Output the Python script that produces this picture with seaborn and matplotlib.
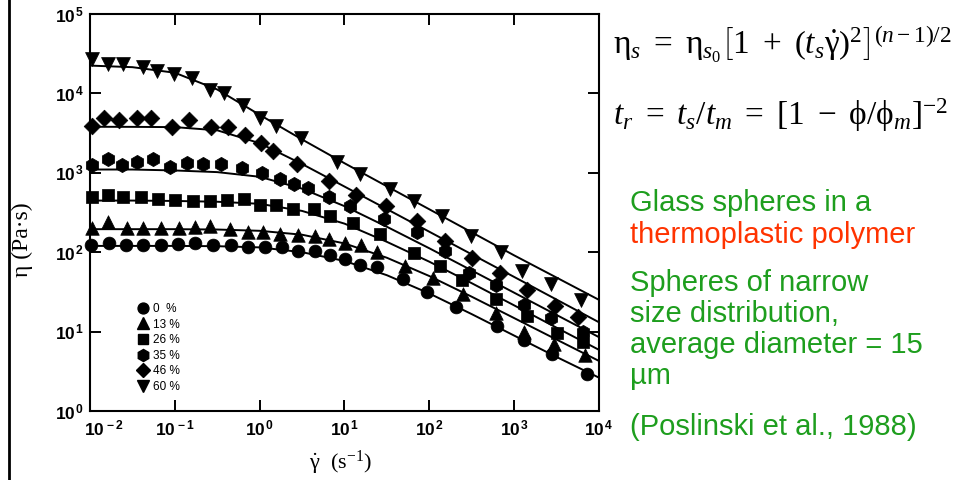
import numpy as np
import pandas as pd
import matplotlib
matplotlib.use("Agg")
import matplotlib.pyplot as plt
import matplotlib.transforms as mtransforms
import seaborn as sns
from matplotlib.lines import Line2D
from matplotlib.ticker import FixedLocator, NullLocator, FuncFormatter

# ---------------- data ----------------
labels = ["0  %", "13 %", "26 %", "35 %", "46 %", "60 %"]

rate_0 = [0.0102, 0.0166, 0.0263, 0.0427, 0.0692, 0.110, 0.174, 0.279, 0.462, 0.724, 1.16, 1.81, 2.82,
          4.47, 6.67, 10.2, 15.1, 24.0, 49.0, 94.4, 204, 631, 1290, 2820, 7240]
eta_0 = [124, 130, 122, 122, 124, 126, 130, 122, 122, 117, 117, 116, 105,
         105, 92.5, 81.3, 69.2, 64.6, 45.7, 31.6, 20.2, 11.7, 7.85, 5.25, 2.95]

rate_13 = [0.0107, 0.0164, 0.0275, 0.0417, 0.0692, 0.112, 0.174, 0.26, 0.447, 0.724, 1.10, 1.72, 2.82,
           4.47, 6.61, 10.2, 15.8, 24.0, 51.3, 110, 251, 617, 1320, 2950, 6760]
eta_13 = [204, 240, 204, 204, 204, 204, 209, 214, 195, 182, 182, 170, 166,
          158, 148, 129, 123, 100, 66.1, 46.8, 29.5, 17.4, 10.0, 7.08, 5.01]

rate_26 = [0.0107, 0.0164, 0.0245, 0.0398, 0.0631, 0.1, 0.162, 0.257, 0.412, 0.661, 1.0, 1.55,
           2.45, 4.37, 6.76, 12.6, 26.3, 66.1, 135, 240, 617, 1410, 3160, 6460]
eta_26 = [501, 525, 490, 490, 468, 457, 447, 447, 457, 468, 398, 389,
          355, 347, 285, 234, 170, 97.7, 66.8, 44.7, 25.7, 15.5, 9.55, 7.41]

rate_35 = [0.0107, 0.0164, 0.024, 0.0359, 0.0556, 0.0871, 0.141, 0.214, 0.347, 0.617, 1.07, 1.74,
           2.51, 3.76, 6.61, 11.5, 29.5, 70.8, 151, 295, 617, 1290, 2690, 6460]
eta_35 = [1270, 1480, 1260, 1350, 1480, 1200, 1320, 1290, 1290, 1150, 1000, 824,
          724, 646, 490, 380, 263, 182, 105, 55.0, 38.9, 21.9, 14.8, 10.0]

rate_46 = [0.0107, 0.0148, 0.0219, 0.0355, 0.0525, 0.0933, 0.145, 0.265, 0.427, 0.676, 1.04, 1.45,
           2.75, 6.61, 13.5, 30.9, 70.8, 151, 316, 676, 1410, 3020, 5620]
eta_46 = [3890, 4950, 4680, 4900, 4900, 3800, 4680, 3800, 3800, 3020, 2400, 1860,
          1290, 785, 525, 380, 245, 138, 85.1, 55.0, 33.9, 20.9, 15.1]

rate_60 = [0.0107, 0.0164, 0.0247, 0.0427, 0.0624, 0.0986, 0.158, 0.257, 0.382, 0.631, 1.01, 1.55,
           3.09, 8.07, 15.1, 34.7, 66.1, 141, 309, 708, 1230, 2690, 6170]
eta_60 = [26900, 23400, 23400, 21400, 19100, 17800, 15500, 11000, 10000, 7160, 4950, 3890,
          2750, 1350, 955, 631, 447, 285, 158, 100, 57.5, 39.8, 25.1]

# fitted curves (Carreau model lines)
curve_rate = [0.01, 0.0316, 0.1, 0.316, 1, 3.16, 10, 31.6, 100, 316, 1000, 3160, 10000]
fit_0 = [120, 120, 120, 119, 115, 100, 77.6, 51.3, 30.2, 16.6, 8.91, 4.79, 2.63]
fit_13 = [195, 195, 195, 193, 186, 166, 129, 85.1, 50.1, 27.5, 14.8, 7.94, 4.27]
fit_26 = [447, 447, 442, 432, 407, 331, 229, 135, 75.9, 40.7, 21.4, 11.2, 5.89]
fit_35 = [1100, 1100, 1070, 1020, 891, 631, 380, 209, 112, 58.9, 30.9, 16.2, 8.51]
fit_46 = [3800, 3790, 3760, 3430, 2360, 1290, 671, 349, 181, 94.0, 48.8, 25.3, 13.1]
fit_60 = [22400, 21400, 18200, 11200, 5370, 2630, 1320, 676, 347, 178, 91.2, 47.9, 25.1]

markers = ["o", "^", "s", "h", "D", "v"]
msizes = [85, 95, 75, 105, 72, 100]

# ---------------- build tables ----------------
rates = [rate_0, rate_13, rate_26, rate_35, rate_46, rate_60]
etas = [eta_0, eta_13, eta_26, eta_35, eta_46, eta_60]
fits = [fit_0, fit_13, fit_26, fit_35, fit_46, fit_60]

pts = pd.concat([pd.DataFrame({"rate": r, "eta": e, "conc": l})
                 for r, e, l in zip(rates, etas, labels)], ignore_index=True)
curves = pd.concat([pd.DataFrame({"rate": curve_rate, "eta": f, "conc": l})
                    for f, l in zip(fits, labels)], ignore_index=True)

# ---------------- figure ----------------
plt.rcParams["mathtext.fontset"] = "custom"
plt.rcParams["mathtext.rm"] = "Liberation Serif"
plt.rcParams["mathtext.it"] = "Liberation Serif:italic"
plt.rcParams["mathtext.bf"] = "Liberation Sans:bold"

fig = plt.figure(figsize=(9.64, 4.8), dpi=100)
ax = fig.add_axes([90 / 964, 1 - 411 / 480, (599 - 90) / 964, (411 - 14) / 480])

sns.lineplot(data=curves, x="rate", y="eta", units="conc", estimator=None,
             color="black", lw=1.4, ax=ax, legend=False, sort=True)
for l, m, s in zip(labels, markers, msizes):
    sub = pts[pts["conc"] == l]
    sns.scatterplot(data=sub, x="rate", y="eta", marker=m, s=s, color="black",
                    edgecolor="black", linewidth=0.5, ax=ax, legend=False,
                    clip_on=False, zorder=3)

ax.set_xscale("log")
ax.set_yscale("log")
ax.set_xlim(1e-2, 1e4)
ax.set_ylim(1e0, 1e5)
ax.xaxis.set_major_locator(FixedLocator([10.0 ** k for k in range(-2, 5)]))
ax.yaxis.set_major_locator(FixedLocator([10.0 ** k for k in range(0, 6)]))
ax.xaxis.set_minor_locator(NullLocator())
ax.yaxis.set_minor_locator(NullLocator())
fmt = FuncFormatter(lambda v, p: r"$\mathbf{10^{\,%d}}$" % int(round(np.log10(v))))
ax.xaxis.set_major_formatter(fmt)
ax.yaxis.set_major_formatter(fmt)
ax.tick_params(which="major", direction="in", length=8, width=1.4,
               top=True, right=True, labelsize=12.5)
ax.tick_params(axis="x", pad=6)
ax.tick_params(axis="y", pad=4)
for sp in ax.spines.values():
    sp.set_linewidth(1.5)
    sp.set_color("black")
ax.set_xlabel("")
ax.set_ylabel("")

# shift first x tick label to the right (as in the reference)
fig.canvas.draw()
xlabs = ax.get_xticklabels()
xlabs[0].set_transform(xlabs[0].get_transform() +
                       mtransforms.ScaledTranslation(14 / 100, 0, fig.dpi_scale_trans))

# legend
handles = [Line2D([], [], marker=m, ls="none", color="black", markersize=np.sqrt(s) * 0.85)
           for m, s in zip(markers, msizes)]
leg = ax.legend(handles, labels, loc="upper left", bbox_to_anchor=(0.093, 0.272),
                frameon=False, handletextpad=0.35, labelspacing=0.3,
                handlelength=1.0, borderpad=0, borderaxespad=0,
                prop={"family": "Liberation Sans", "size": 8.5})

# axis titles
fig.text(22 / 964, 1 - 240 / 480, "η (Pa·s)", rotation=90, ha="center", va="center",
         family="Liberation Serif", fontsize=17)
fig.text(340 / 964, 1 - 463 / 480, r"$\dot{\mathrm{\gamma}}$  (s$^{-1}$)", ha="center",
         va="center", fontsize=16, family="Liberation Serif")

# left border line of the slide
fig.add_artist(Line2D([9 / 964, 9 / 964], [0, 1], color="black", lw=2,
                      transform=fig.transFigure))

# equations
fig.text(613 / 964, 1 - 45 / 480,
         r"$\mathrm{\eta}_s\ =\ \mathrm{\eta}_{s_0}\left[1\ +\ \left(t_s\dot{\mathrm{\gamma}}\right)^2\right]^{(n-1)/2}$",
         ha="left", va="center", fontsize=24)
fig.text(613 / 964, 1 - 115 / 480,
         r"$t_r\ =\ t_s/t_m\ =\ [1\ -\ \mathrm{\phi}/\mathrm{\phi}_m]^{-2}$",
         ha="left", va="center", fontsize=24)

green = "#1e9e1e"
red = "#ff3300"
txt = dict(ha="left", va="center", fontsize=21, family="Liberation Sans")
fig.text(630 / 964, 1 - 203 / 480, "Glass spheres in a", color=green, **txt)
fig.text(630 / 964, 1 - 235 / 480, "thermoplastic polymer", color=red, **txt)
fig.text(630 / 964, 1 - 283 / 480, "Spheres of narrow", color=green, **txt)
fig.text(630 / 964, 1 - 314 / 480, "size distribution,", color=green, **txt)
fig.text(630 / 964, 1 - 345 / 480, "average diameter = 15", color=green, **txt)
fig.text(630 / 964, 1 - 376 / 480, "µm", color=green, **txt)
fig.text(630 / 964, 1 - 427 / 480, "(Poslinski et al., 1988)", color=green, **txt)

fig.savefig("out.png", dpi=100)
